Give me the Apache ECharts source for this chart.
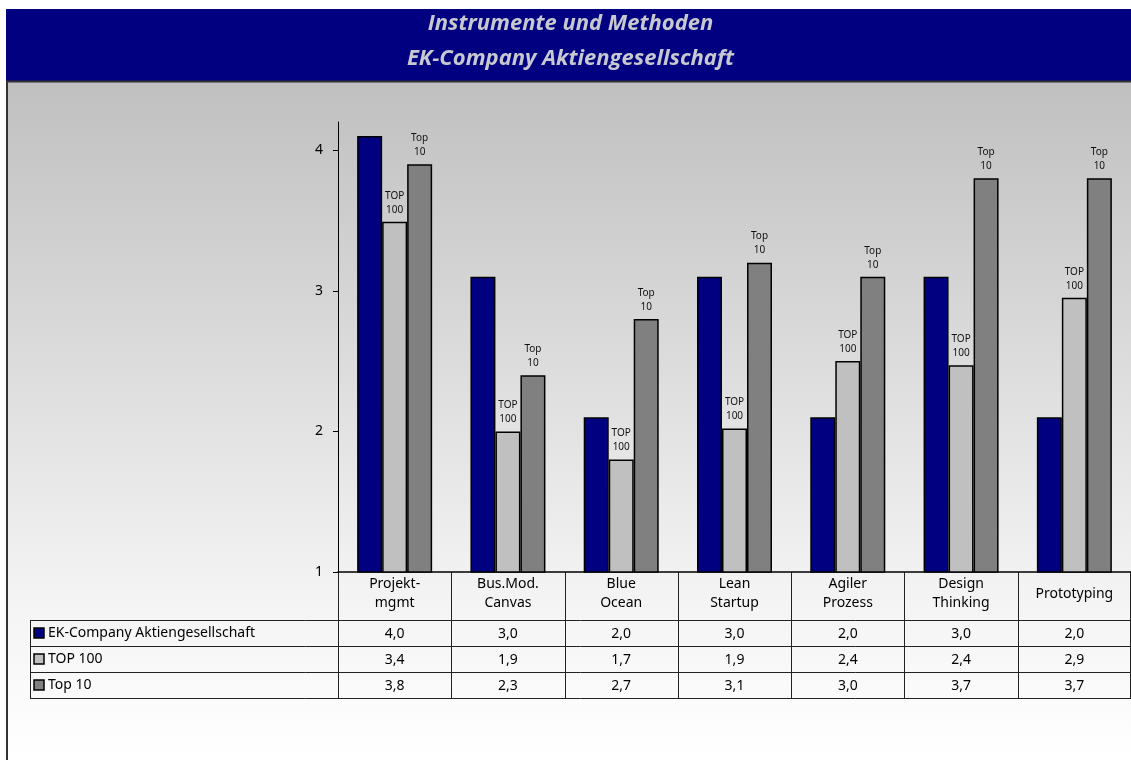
<!DOCTYPE html>
<html>
<head>
<meta charset="utf-8">
<title>Instrumente und Methoden</title>
<script src="https://cdn.jsdelivr.net/npm/echarts@6/dist/echarts.min.js"></script>
<style>
  html, body { margin: 0; padding: 0; background: #fff; }
  #chart { width: 1131px; height: 760px; }
</style>
</head>
<body>
<div id="chart"></div>
<script>
// categories (header row of the table)
const categories = ['Projekt-\nmgmt', 'Bus.Mod.\nCanvas', 'Blue\nOcean', 'Lean\nStartup', 'Agiler\nProzess', 'Design\nThinking', 'Prototyping']
const seriesNames = ['EK-Company Aktiengesellschaft', 'TOP 100', 'Top 10']
const seriesColors = ['#000080', '#c0c0c0', '#808080']

// bar heights
const ekBars = [4.1, 3.1, 2.1, 3.1, 2.1, 3.1, 2.1]
const top100Bars = [3.49, 2.0, 1.8, 2.02, 2.5, 2.47, 2.95]
const top10Bars = [3.9, 2.4, 2.8, 3.2, 3.1, 3.8, 3.8]

// values printed in the data table
const ekTable = [4.0, 3.0, 2.0, 3.0, 2.0, 3.0, 2.0]
const top100Table = [3.4, 1.9, 1.7, 1.9, 2.4, 2.4, 2.9]
const top10Table = [3.8, 2.3, 2.7, 3.1, 3.0, 3.7, 3.7]

const yTicks = [1, 2, 3, 4]

const fontTxt = '"Noto Sans", "Open Sans", sans-serif'
const chart = echarts.init(document.getElementById('chart'))

const barLabel = (text) => ({
  show: true,
  position: 'top',
  distance: 5,
  formatter: text,
  fontSize: 10,
  lineHeight: 14,
  color: '#111',
  fontFamily: fontTxt
})

const barStyle = (color) => ({
  color: color,
  borderColor: '#000',
  borderWidth: 1.5
})

chart.setOption({
  backgroundColor: '#fff',
  animation: false,
  grid: { left: 338, right: 0, top: 122, bottom: 188 },
  xAxis: {
    type: 'category',
    data: categories,
    axisLine: { lineStyle: { color: '#000', width: 1.5 } },
    axisTick: { show: false },
    axisLabel: {
      margin: 22,
      verticalAlign: 'middle',
      fontSize: 14,
      lineHeight: 19,
      color: '#000',
      fontFamily: fontTxt
    }
  },
  yAxis: {
    type: 'value',
    min: 1,
    max: 4.2,
    interval: 1,
    axisLine: { show: true, lineStyle: { color: '#000', width: 1 } },
    axisTick: { show: true, length: 5, customValues: yTicks, lineStyle: { color: '#000' } },
    axisLabel: {
      customValues: yTicks,
      margin: 15,
      fontSize: 14,
      color: '#000',
      fontFamily: fontTxt
    },
    splitLine: { show: false }
  },
  series: [
    {
      name: seriesNames[0],
      type: 'bar',
      data: ekBars,
      barWidth: 25,
      barGap: '0%',
      itemStyle: barStyle(seriesColors[0]),
      z: 3
    },
    {
      name: seriesNames[1],
      type: 'bar',
      data: top100Bars,
      barWidth: 25,
      barGap: '0%',
      itemStyle: barStyle(seriesColors[1]),
      label: barLabel('TOP\n100'),
      z: 2
    },
    {
      name: seriesNames[2],
      type: 'bar',
      data: top10Bars,
      barWidth: 25,
      barGap: '0%',
      itemStyle: barStyle(seriesColors[2]),
      label: barLabel('Top\n10'),
      z: 3
    }
  ]
})

// frame, title banner and data table
const buildGraphics = () => {
  const W = chart.getWidth()
  const H = chart.getHeight()
  const c0 = chart.convertToPixel({ xAxisIndex: 0 }, 0)
  const c1 = chart.convertToPixel({ xAxisIndex: 0 }, 1)
  const band = c1 - c0
  const yBase = chart.convertToPixel({ yAxisIndex: 0 }, 1)
  const leftEdge = c0 - band / 2
  const rightEdge = leftEdge + band * categories.length
  const tableLeft = 30
  const rowTop = 620
  const rowH = 26
  const tables = [ekTable, top100Table, top10Table]
  const lineStyle = { stroke: '#222', lineWidth: 1 }

  const elements = [
    {
      type: 'rect', z: -10, silent: true,
      shape: { x: 8, y: 82, width: W - 8, height: H - 82 },
      style: {
        fill: new echarts.graphic.LinearGradient(0, 0, 0, 1, [
          { offset: 0, color: '#c0c0c0' },
          { offset: 0.75, color: '#f3f3f3' },
          { offset: 1, color: '#ffffff' }
        ])
      }
    },
    {
      type: 'rect', z: 10, silent: true,
      shape: { x: 6, y: 9, width: W - 6, height: 72 },
      style: { fill: '#000080' }
    },
    { type: 'line', z: 10, silent: true, shape: { x1: 6, y1: 81.5, x2: W, y2: 81.5 }, style: { stroke: '#333', lineWidth: 2 } },
    { type: 'line', z: 10, silent: true, shape: { x1: 7, y1: 81, x2: 7, y2: H }, style: { stroke: '#333', lineWidth: 2 } },
    {
      type: 'text', z: 11, silent: true,
      x: W / 2 + 5, y: 41,
      style: {
        text: 'Instrumente und Methoden\nEK-Company Aktiengesellschaft',
        align: 'center', verticalAlign: 'middle',
        font: 'italic bold 22px "Open Sans", sans-serif',
        lineHeight: 35,
        fill: '#c8c8d0'
      }
    }
  ]

  // header row verticals
  for (let i = 0; i <= categories.length; i++) {
    const x = Math.round(leftEdge + i * band) + 0.5
    elements.push({ type: 'line', silent: true, shape: { x1: x, y1: yBase, x2: x, y2: rowTop + rowH * 3 }, style: lineStyle })
  }
  // horizontal row lines
  for (let r = 0; r <= 3; r++) {
    const y = rowTop + r * rowH + 0.5
    elements.push({ type: 'line', silent: true, shape: { x1: tableLeft, y1: y, x2: rightEdge, y2: y }, style: lineStyle })
  }
  elements.push({ type: 'line', silent: true, shape: { x1: tableLeft + 0.5, y1: rowTop, x2: tableLeft + 0.5, y2: rowTop + rowH * 3 }, style: lineStyle })
  elements.push({ type: 'line', silent: true, shape: { x1: rightEdge - 0.5, y1: yBase, x2: rightEdge - 0.5, y2: rowTop + rowH * 3 }, style: lineStyle })

  // rows: legend square, name, values
  seriesNames.forEach((name, r) => {
    const cy = rowTop + r * rowH + rowH / 2
    elements.push({
      type: 'rect', silent: true,
      shape: { x: 34, y: Math.round(cy) - 5, width: 10, height: 10 },
      style: { fill: seriesColors[r], stroke: '#000', lineWidth: 1.5 }
    })
    elements.push({
      type: 'text', silent: true, x: 48, y: cy,
      style: { text: name, font: '14px ' + fontTxt, fill: '#000', verticalAlign: 'middle' }
    })
    tables[r].forEach((v, i) => {
      elements.push({
        type: 'text', silent: true,
        x: leftEdge + (i + 0.5) * band, y: cy + 1,
        style: {
          text: v.toFixed(1).replace('.', ','),
          font: '14px ' + fontTxt, fill: '#000',
          align: 'center', verticalAlign: 'middle'
        }
      })
    })
  })

  chart.setOption({ graphic: elements })
}

buildGraphics()

window.addEventListener('resize', () => {
  chart.resize()
  buildGraphics()
})
</script>
</body>
</html>
